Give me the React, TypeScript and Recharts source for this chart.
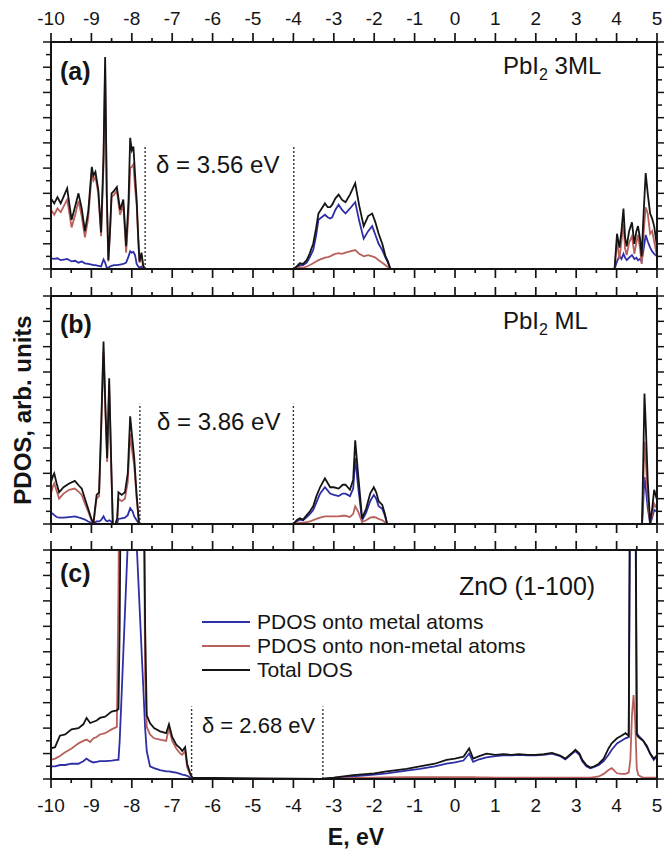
import React from 'react';
import { LineChart, Line, XAxis, YAxis, ReferenceLine, Legend } from 'recharts';

// energy axis ticks (eV)
const X_MAJOR = [-10, -9, -8, -7, -6, -5, -4, -3, -2, -1, 0, 1, 2, 3, 4, 5];
const X_MINOR = [-9.5, -8.5, -7.5, -6.5, -5.5, -4.5, -3.5, -2.5, -1.5, -0.5, 0.5, 1.5, 2.5, 3.5, 4.5];
const X_TICKS = [...X_MAJOR, ...X_MINOR].sort((a, b) => a - b);
const Y_TICKS = [0, 1, 2, 3, 4, 5, 6, 7, 8, 9, 10, 11, 12, 13, 14, 15, 16, 17, 18];

// (a) PbI2 3ML
const A_E = [
  -10, -9.92, -9.84, -9.76, -9.68, -9.6, -9.49, -9.4, -9.32, -9.24,
  -9.16, -9.08, -8.99, -8.95, -8.9, -8.83, -8.76, -8.7, -8.66, -8.62,
  -8.58, -8.54, -8.5, -8.44, -8.37, -8.29, -8.21, -8.14, -8.08, -8.04,
  -8.0, -7.96, -7.92, -7.88, -7.84, -7.81, -7.76, -7.72, -7.68,
  -4.0, -3.92, -3.84, -3.76, -3.67, -3.6, -3.51, -3.44, -3.38, -3.3,
  -3.22, -3.15, -3.09, -3.04, -2.96, -2.88, -2.8, -2.71, -2.6, -2.47,
  -2.37, -2.26, -2.15, -2.05, -1.97, -1.89, -1.8, -1.72, -1.66, -1.6,
  3.95, 4.01, 4.07, 4.12, 4.17, 4.21, 4.25, 4.31, 4.38, 4.44,
  4.49, 4.53, 4.58, 4.62, 4.67, 4.72, 4.77, 4.83, 4.88, 4.93, 5.0,
];
const A_TOTAL = [
  5.6, 5.2, 5.7, 5.2, 5.8, 6.4, 3.9, 5.0, 6.0, 4.8,
  3.0, 4.5, 8.1, 7.4, 7.7, 6.3, 2.9, 9.0, 16.8, 6.0,
  0.7, 3.0, 6.0, 6.2, 6.5, 4.7, 5.5, 1.8, 5.5, 10.4,
  9.4, 9.7, 7.5, 5.5, 2.5, 0.6, 1.3, 0.3, 0,
  0, 0.2, 0.45, 0.4, 0.7, 1.2, 2.0, 3.2, 4.4, 4.8,
  5.2, 4.9, 4.9, 5.1, 5.6, 5.9, 5.5, 5.3, 5.9, 6.8,
  5.0, 3.4, 4.2, 4.4, 3.7, 2.8, 2.0, 1.0, 0.6, 0,
  0, 2.8, 1.7, 3.0, 4.8, 2.5, 1.8, 3.0, 3.7, 2.0,
  3.0, 3.4, 2.4, 1.0, 4.5, 7.6, 6.0, 4.4, 4.0, 3.4, 1.8,
];
const A_METAL = [
  0.85, 0.8, 0.85, 0.7, 0.75, 0.8, 0.6, 0.65, 0.5, 0.6,
  0.45, 0.4, 0.35, 0.3, 0.3, 0.25, 0.2, 0.75, 0.5, 0.1,
  0.1, 0.2, 0.25, 0.3, 0.3, 0.35, 0.4, 0.5, 1.0, 1.4,
  1.3, 1.35, 1.1, 0.4, 0.2, 0.1, 0.2, 0.1, 0,
  0, 0.1, 0.3, 0.3, 0.5, 0.9, 1.5, 2.6, 3.9, 4.1,
  4.3, 4.1, 4.0, 4.1, 4.7, 5.1, 4.7, 4.4, 4.8, 5.3,
  3.8, 2.4, 3.0, 3.4, 2.7, 2.0, 1.5, 0.9, 0.5, 0,
  0, 0.6, 1.0, 0.8, 1.2, 0.9, 0.7, 0.9, 1.1, 0.8,
  0.9, 0.7, 0.8, 0.6, 1.6, 2.7, 2.2, 1.7, 1.4, 1.2, 1.0,
];
const A_NONMETAL = [
  4.7, 4.3, 4.8, 4.5, 5.0, 5.5, 3.3, 4.3, 5.4, 4.2,
  2.5, 4.0, 7.6, 7.0, 7.3, 6.0, 2.6, 8.2, 16.0, 5.8,
  0.6, 2.8, 5.7, 5.9, 6.2, 4.3, 5.1, 1.3, 4.5, 8.0,
  8.1, 8.3, 6.4, 5.1, 2.3, 0.5, 1.1, 0.2, 0,
  0, 0.05, 0.15, 0.1, 0.2, 0.3, 0.45, 0.6, 0.7, 0.8,
  0.9, 0.95, 1.0, 1.1, 1.2, 1.25, 1.2, 1.3, 1.4, 1.5,
  1.2, 1.0, 1.1, 1.0, 0.9, 0.7, 0.5, 0.3, 0.15, 0,
  0, 2.2, 0.8, 2.2, 3.6, 1.6, 1.1, 2.1, 2.6, 1.2,
  2.1, 2.7, 1.6, 0.4, 2.9, 4.9, 4.4, 2.8, 3.0, 2.2, 1.0,
];

// (b) PbI2 ML
const B_E = [
  -10, -9.95, -9.92, -9.86, -9.8, -9.69, -9.55, -9.41, -9.3, -9.24,
  -9.16, -9.08, -9.0, -8.95, -8.9, -8.87, -8.81, -8.76, -8.7, -8.65,
  -8.61, -8.56, -8.51, -8.47, -8.4, -8.36, -8.33, -8.25, -8.17, -8.1,
  -8.04, -7.98, -7.94, -7.88, -7.82,
  -4.0, -3.92, -3.84, -3.76, -3.67, -3.59, -3.51, -3.43, -3.34, -3.22,
  -3.09, -3.0, -2.88, -2.78, -2.71, -2.6, -2.52, -2.47, -2.4, -2.3,
  -2.2, -2.1, -2.01, -1.95, -1.89, -1.8, -1.74, -1.68,
  4.63, 4.66, 4.69, 4.72, 4.77, 4.83, 4.88, 4.93, 5.0,
];
const B_TOTAL = [
  3.3, 3.8, 4.0, 3.2, 2.5, 2.9, 3.2, 3.4, 3.0, 2.8,
  2.0, 1.2, 0.4, 0.05, 1.5, 2.3, 2.5, 7.5, 14.4, 8.9,
  5.2, 11.5, 4.9, 0, 0, 0.5, 2.5, 2.3, 2.5, 4.0,
  8.5, 6.5, 5.2, 2.3, 0,
  0, 0.3, 0.45, 0.35, 0.7, 1.0, 1.4, 2.2, 2.9, 3.6,
  2.9, 2.9, 2.8, 3.1, 3.1, 2.7, 3.5, 6.6, 4.0, 0.45,
  1.2, 2.4, 2.9, 2.5, 1.8, 1.5, 0.85, 0,
  0, 5.0, 10.3, 8.0, 3.5, 0.05, 1.2, 2.7, 1.9,
];
const B_METAL = [
  0.9, 0.8, 0.7, 0.55, 0.5, 0.5, 0.55, 0.6, 0.5, 0.45,
  0.35, 0.2, 0.1, 0.05, 0.15, 0.2, 0.2, 0.3, 0.6, 0.3,
  0.2, 0.3, 0.2, 0, 0, 0.1, 0.4, 0.45, 0.5, 0.7,
  1.25, 1.0, 0.6, 0.3, 0,
  0, 0.2, 0.35, 0.3, 0.55, 0.8, 1.1, 1.7, 2.4, 2.9,
  2.4, 2.3, 2.2, 2.4, 2.4, 2.2, 2.8, 5.2, 3.0, 0.3,
  0.9, 1.8, 2.3, 2.0, 1.4, 1.2, 0.7, 0,
  0, 1.8, 3.7, 2.9, 1.3, 0, 0.5, 1.1, 1.0,
];
const B_NONMETAL = [
  2.4, 3.0, 3.2, 2.6, 2.0, 2.4, 2.7, 2.8, 2.5, 2.3,
  1.6, 1.0, 0.3, 0, 1.3, 2.0, 2.2, 7.1, 13.6, 8.5,
  4.9, 11.0, 4.6, 0, 0, 0.4, 2.0, 1.8, 2.0, 3.3,
  7.1, 5.5, 4.6, 2.0, 0,
  0, 0.05, 0.1, 0.1, 0.15, 0.2, 0.3, 0.4, 0.5, 0.6,
  0.6, 0.6, 0.6, 0.65, 0.65, 0.55, 0.8, 1.4, 1.0, 0.15,
  0.3, 0.5, 0.55, 0.5, 0.4, 0.3, 0.15, 0,
  0, 3.2, 6.5, 5.1, 2.2, 0.05, 0.7, 1.6, 1.2,
];

// (c) ZnO (1-100)
const C_E = [
  -10, -9.9, -9.78, -9.65, -9.49, -9.32, -9.2, -9.12, -9.03, -8.95,
  -8.87, -8.79, -8.66, -8.5, -8.37, -8.33, -8.3, -8.26, -8.1, -8.0,
  -7.88, -7.72, -7.67, -7.63, -7.55, -7.45, -7.3, -7.15, -7.08, -7.0,
  -6.9, -6.8, -6.75, -6.68, -6.63, -6.55, -6.5,
  -3.3, -3.0, -2.52, -2.0, -1.69, -1.2, -0.87, -0.5, -0.21, 0.0,
  0.21, 0.35, 0.45, 0.6, 0.78, 1.0, 1.2, 1.4, 1.58, 1.8,
  1.99, 2.2, 2.4, 2.6, 2.73, 2.88, 2.98, 3.08, 3.15, 3.25,
  3.35, 3.45, 3.56, 3.68, 3.8, 3.88, 4.01, 4.12, 4.22, 4.3,
  4.34, 4.38, 4.42, 4.46, 4.5, 4.54, 4.66, 4.75, 4.83, 4.92, 5.0,
];
const C_TOTAL = [
  2.4, 2.5, 3.4, 3.5, 3.9, 4.0, 4.3, 4.8, 4.4, 4.5,
  4.6, 4.8, 4.9, 5.3, 5.4, 5.5, 12, 30, 40, 45,
  40, 30, 12, 5.0, 4.4, 4.0, 3.75, 3.6, 4.3, 3.3,
  2.7, 2.4, 2.2, 2.5, 1.2, 0.4, 0.1,
  0, 0.1, 0.3, 0.45, 0.6, 0.8, 1.0, 1.2, 1.5, 1.6,
  1.75, 2.4, 1.6, 1.8, 2.0, 1.9, 1.95, 1.9, 1.95, 1.9,
  1.9, 1.95, 2.05, 1.85, 1.6, 2.0, 2.3, 2.0, 1.5, 1.1,
  0.9, 1.0, 1.2, 1.6, 2.4, 2.8, 3.2, 3.4, 3.6, 3.4,
  30, 45, 45, 30, 3.5, 3.3, 3.0, 2.6, 2.0, 1.6, 1.85,
];
const C_METAL = [
  1.0, 1.0, 1.1, 1.1, 1.2, 1.2, 1.4, 1.6, 1.4, 1.3,
  1.35, 1.4, 1.4, 1.45, 1.5, 1.5, 3.0, 6.0, 18.5, 28,
  18.5, 7.5, 4.0, 2.2, 1.0, 0.85, 0.7, 0.6, 0.6, 0.55,
  0.5, 0.4, 0.35, 0.3, 0.25, 0.1, 0,
  0, 0.08, 0.2, 0.35, 0.45, 0.65, 0.8, 1.0, 1.2, 1.3,
  1.45, 2.0, 1.35, 1.55, 1.7, 1.8, 1.85, 1.85, 1.9, 1.85,
  1.85, 1.9, 2.0, 1.8, 1.55, 1.95, 2.2, 1.9, 1.4, 1.0,
  0.85, 0.95, 1.1, 1.4, 1.9, 2.3, 2.8, 3.0, 3.2, 3.3,
  25, 40, 40, 25, 3.6, 3.4, 3.0, 2.5, 2.0, 1.5, 1.8,
];
const C_NONMETAL = [
  1.5, 1.6, 1.8, 2.1, 2.4, 2.8, 3.0, 3.1, 2.9, 3.2,
  3.3, 3.5, 3.6, 3.9, 4.1, 15, 30, 40, 45, 48,
  45, 30, 8, 4.1, 3.5, 3.2, 3.1, 3.0, 4.0, 3.0,
  2.4, 2.0, 1.9, 2.2, 0.9, 0.3, 0.05,
  0, 0.02, 0.08, 0.1, 0.12, 0.15, 0.15, 0.15, 0.15, 0.15,
  0.15, 0.15, 0.15, 0.12, 0.12, 0.1, 0.1, 0.1, 0.1, 0.1,
  0.1, 0.1, 0.1, 0.1, 0.1, 0.1, 0.1, 0.1, 0.1, 0.1,
  0.1, 0.15, 0.2, 0.4, 0.7, 0.85, 0.45, 0.4, 0.4, 0.5,
  1.5, 5.0, 6.6, 4.5, 0.8, 0.3, 0.1, 0.1, 0.1, 0.1, 0.1,
];

// band-gap markers [valence edge, conduction edge, marker height]
const A_GAP = [-7.67, -3.99, 9.7];
const B_GAP = [-7.8, -4.0, 9.5];
const C_GAP = [-6.52, -3.27, 5.7];

const SERIES = [
  { key: 'metal', name: 'PDOS onto metal atoms', color: '#2e2ea6' },
  { key: 'nonmetal', name: 'PDOS onto non-metal atoms', color: '#b8615c' },
  { key: 'total', name: 'Total DOS', color: '#141414' },
];

const FONT = '"Liberation Sans", Arial, Helvetica, sans-serif';
const AXIS = '#141414';

const rows = (e: number[], metal: number[], nonmetal: number[], total: number[]) =>
  e.map((v, i) => ({ e: v, metal: metal[i], nonmetal: nonmetal[i], total: total[i] }));

const makeXTick = (side: 'top' | 'bottom', labels: boolean) => (props: any) => {
  const { x, y, payload } = props;
  const v = payload.value;
  const major = Math.abs(v - Math.round(v)) < 1e-6;
  const d = side === 'top' ? -1 : 1;
  const len = major ? 9 : 4;
  return (
    <g>
      <line x1={x} x2={x} y1={y} y2={y + d * len} stroke={AXIS} strokeWidth={1.7} />
      {labels && major && (
        <text
          x={x}
          y={side === 'top' ? y - 17 : y + 33}
          textAnchor="middle"
          fontSize={19}
          fontFamily={FONT}
          fill="#141414"
        >
          {String(v)}
        </text>
      )}
    </g>
  );
};

const makeYTick = (side: 'left' | 'right') => (props: any) => {
  const { x, y, payload } = props;
  const major = payload.value % 2 === 0;
  const d = side === 'left' ? -1 : 1;
  const len = major ? 8 : 5;
  return <line x1={x} x2={x + d * len} y1={y} y2={y} stroke={AXIS} strokeWidth={1.5} />;
};

const renderLegend = (props: any) => {
  const items = SERIES.map((s) => (props.payload || []).find((p: any) => p.dataKey === s.key)).filter(Boolean);
  return (
    <div>
      {items.map((it: any) => (
        <div key={it.dataKey} style={{ display: 'flex', alignItems: 'center', height: 24 }}>
          <svg width={48} height={4}>
            <line x1={0} x2={48} y1={2} y2={2} stroke={it.color} strokeWidth={1.8} />
          </svg>
          <span style={{ marginLeft: 7, fontSize: 21, fontFamily: FONT, color: '#141414' }}>{it.value}</span>
        </div>
      ))}
    </div>
  );
};

interface PanelProps {
  top: number;
  height: number;
  plotTop: number;
  plotBottom: number;
  data: any[];
  gap: number[];
  topLabels?: boolean;
  bottomLabels?: boolean;
  legend?: boolean;
}

// plot box spans x 51..657 on the page; each axis reserves 1px
const Panel: React.FC<PanelProps> = ({ top, height, plotTop, plotBottom, data, gap, topLabels, bottomLabels, legend }) => (
  <div style={{ position: 'absolute', left: 0, top }}>
    <LineChart
      width={664}
      height={height}
      data={data}
      margin={{ top: plotTop - 1, right: 6, bottom: plotBottom - 1, left: 50 }}
    >
      <XAxis
        xAxisId="top"
        orientation="top"
        type="number"
        dataKey="e"
        domain={[-10, 5]}
        ticks={X_TICKS}
        interval={0}
        height={1}
        tickSize={0}
        tickMargin={0}
        tickLine={false}
        tick={makeXTick('top', !!topLabels)}
        axisLine={{ stroke: AXIS, strokeWidth: 2 }}
      />
      <XAxis
        xAxisId="bottom"
        orientation="bottom"
        type="number"
        dataKey="e"
        domain={[-10, 5]}
        ticks={X_TICKS}
        interval={0}
        height={1}
        tickSize={0}
        tickMargin={0}
        tickLine={false}
        tick={makeXTick('bottom', !!bottomLabels)}
        axisLine={{ stroke: AXIS, strokeWidth: 2 }}
      />
      <YAxis
        yAxisId="left"
        orientation="left"
        type="number"
        domain={[0, 18]}
        allowDataOverflow
        ticks={Y_TICKS}
        interval={0}
        width={1}
        tickSize={0}
        tickMargin={0}
        tickLine={false}
        tick={makeYTick('left')}
        axisLine={{ stroke: AXIS, strokeWidth: 2 }}
      />
      <YAxis
        yAxisId="right"
        orientation="right"
        type="number"
        domain={[0, 18]}
        allowDataOverflow
        ticks={Y_TICKS}
        interval={0}
        width={1}
        tickSize={0}
        tickMargin={0}
        tickLine={false}
        tick={makeYTick('right')}
        axisLine={{ stroke: AXIS, strokeWidth: 2 }}
      />
      {SERIES.map((s) => (
        <Line
          key={s.key}
          xAxisId="bottom"
          yAxisId="left"
          type="linear"
          dataKey={s.key}
          name={s.name}
          stroke={s.color}
          strokeWidth={1.8}
          dot={false}
          activeDot={false}
          isAnimationActive={false}
        />
      ))}
      {[gap[0], gap[1]].map((g) => (
        <ReferenceLine
          key={g}
          xAxisId="bottom"
          yAxisId="left"
          segment={[{ x: g, y: 0 }, { x: g, y: gap[2] }]}
          stroke="#333"
          strokeWidth={1.4}
          strokeDasharray="2 2"
        />
      ))}
      {legend && (
        <Legend
          layout="vertical"
          align="center"
          verticalAlign="middle"
          content={renderLegend}
          wrapperStyle={{ left: 202, top: 74, width: 340 }}
        />
      )}
    </LineChart>
  </div>
);

const txt = { fontFamily: FONT, fill: '#141414' } as const;

export default function App() {
  return (
    <div style={{ position: 'absolute', left: 0, top: 0, width: 664, height: 850, background: '#fff' }}>
      <Panel top={0} height={285} plotTop={42} plotBottom={16} data={rows(A_E, A_METAL, A_NONMETAL, A_TOTAL)} gap={A_GAP} topLabels />
      <Panel top={282} height={255} plotTop={14} plotBottom={13} data={rows(B_E, B_METAL, B_NONMETAL, B_TOTAL)} gap={B_GAP} />
      <Panel
        top={536}
        height={314}
        plotTop={14}
        plotBottom={71}
        data={rows(C_E, C_METAL, C_NONMETAL, C_TOTAL)}
        gap={C_GAP}
        bottomLabels
        legend
      />
      <svg width={664} height={850} style={{ position: 'absolute', left: 0, top: 0, pointerEvents: 'none' }}>
        <text x={60} y={80} fontSize={25} fontWeight="bold" {...txt}>(a)</text>
        <text x={60} y={333} fontSize={25} fontWeight="bold" {...txt}>(b)</text>
        <text x={60} y={582} fontSize={25} fontWeight="bold" {...txt}>(c)</text>
        <text x={503} y={74} fontSize={24} {...txt}>
          PbI<tspan fontSize={16} dy={6}>2</tspan>
          <tspan dy={-6}> 3ML</tspan>
        </text>
        <text x={503} y={329} fontSize={24} {...txt}>
          PbI<tspan fontSize={16} dy={6}>2</tspan>
          <tspan dy={-6}> ML</tspan>
        </text>
        <text x={459} y={595} fontSize={25} {...txt}>ZnO (1-100)</text>
        <text x={156} y={173} fontSize={24} {...txt}>δ = 3.56 eV</text>
        <text x={157} y={430} fontSize={24} {...txt}>δ = 3.86 eV</text>
        <text x={202} y={733} fontSize={22} {...txt}>δ = 2.68 eV</text>
        <text x={356} y={845} fontSize={23} fontWeight="bold" textAnchor="middle" {...txt}>E, eV</text>
        <text
          x={31}
          y={410}
          fontSize={24}
          fontWeight="bold"
          textAnchor="middle"
          transform="rotate(-90 31 410)"
          {...txt}
        >
          PDOS, arb. units
        </text>
      </svg>
    </div>
  );
}
